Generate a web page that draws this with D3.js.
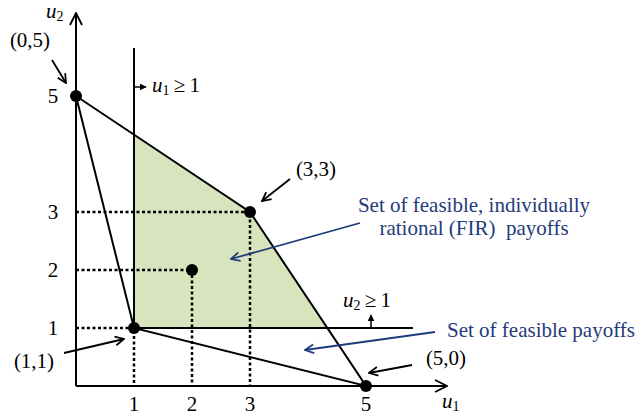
<!DOCTYPE html>
<html><head><meta charset="utf-8">
<script src="https://cdn.jsdelivr.net/npm/d3@7"></script>
<style>body{margin:0;background:#fff}svg{display:block}text{font-family:"Liberation Serif","Times New Roman",serif}</style>
</head><body><svg id="c" width="639" height="416"></svg>
<script>
const feasibleVertices = [[0,5],[3,3],[5,0],[1,1]];
const firVertices = [[1,1],[1,13/3],[3,3],[13/3,1]];
const markedPoints = [[0,5],[3,3],[5,0],[1,1],[2,2]];
const dottedGuides = [[3,3],[2,2],[1,1]];
const xTicks = [1,2,3,5];
const yTicks = [1,2,3,5];
const pointLabels = ["(0,5)","(3,3)","(5,0)","(1,1)"];
const blueLabels = ["Set of feasible, individually","rational (FIR)  payoffs","Set of feasible payoffs"];

const svg = d3.select("#c");
const x = d3.scaleLinear().domain([0,5]).range([76,366]);
const y = d3.scaleLinear().domain([0,5]).range([386,96]);
const blue = "#1f3b7a";
const FS = 21;

const defs = svg.append("defs");
function marker(id,color){
  defs.append("marker").attr("id",id).attr("viewBox","0 0 10 10").attr("refX",9).attr("refY",5)
   .attr("markerWidth",11).attr("markerHeight",11).attr("markerUnits","userSpaceOnUse").attr("orient","auto")
   .append("path").attr("d","M1,1 L9,5 L1,9").attr("fill","none").attr("stroke",color).attr("stroke-width",1.6);
}
marker("ak","#000"); marker("ab",blue);
defs.append("marker").attr("id","ax").attr("viewBox","0 0 14 14").attr("refX",13).attr("refY",7)
  .attr("markerWidth",14).attr("markerHeight",14).attr("markerUnits","userSpaceOnUse").attr("orient","auto")
  .append("path").attr("d","M1,1 L13,7 L1,13").attr("fill","none").attr("stroke","#000").attr("stroke-width",1.8);
defs.append("marker").attr("id","tri").attr("viewBox","0 0 10 10").attr("refX",9).attr("refY",5)
  .attr("markerWidth",7).attr("markerHeight",7).attr("markerUnits","userSpaceOnUse").attr("orient","auto")
  .append("path").attr("d","M0,0 L10,5 L0,10 Z").attr("fill","#000");

const line = d3.line().x(d=>x(d[0])).y(d=>y(d[1]));

// FIR fill
svg.append("path").attr("d",line(firVertices)+"Z").attr("fill","#d7e4bd");

// dotted guides
dottedGuides.forEach(p=>{
  svg.append("path").attr("d",line([[0,p[1]],p,[p[0],0]])).attr("fill","none")
    .attr("stroke","#000").attr("stroke-width",2.5).attr("stroke-dasharray","3,2.5");
});

// axes
svg.append("line").attr("x1",x(0)).attr("y1",y(0)).attr("x2",447).attr("y2",y(0))
  .attr("stroke","#000").attr("stroke-width",2).attr("marker-end","url(#ax)");
svg.append("line").attr("x1",x(0)).attr("y1",y(0)).attr("x2",x(0)).attr("y2",13)
  .attr("stroke","#000").attr("stroke-width",2).attr("marker-end","url(#ax)");

// constraint lines
svg.append("line").attr("x1",x(1)).attr("y1",48).attr("x2",x(1)).attr("y2",y(1)).attr("stroke","#000").attr("stroke-width",2);
svg.append("line").attr("x1",x(1)).attr("y1",y(1)).attr("x2",413).attr("y2",y(1)).attr("stroke","#000").attr("stroke-width",2);

// feasible polygon edges
svg.append("path").attr("d",line(feasibleVertices)+"Z").attr("fill","none").attr("stroke","#000").attr("stroke-width",2);

// points
svg.selectAll("circle.pt").data(markedPoints).join("circle").attr("class","pt")
  .attr("cx",d=>x(d[0])).attr("cy",d=>y(d[1])).attr("r",6).attr("fill","#000");

// ticks
svg.selectAll("text.xt").data(xTicks).join("text").attr("class","xt")
  .attr("x",d=>x(d)).attr("y",411).attr("text-anchor","middle").attr("font-size",FS).text(d=>d);
svg.selectAll("text.yt").data(yTicks).join("text").attr("class","yt")
  .attr("x",53).attr("y",d=>y(d)+7).attr("text-anchor","middle").attr("font-size",FS).text(d=>d);

// axis labels
function ulab(xx,yy,sub,extra){
  const t=svg.append("text").attr("x",xx).attr("y",yy).attr("font-size",FS).attr("font-style","italic");
  t.append("tspan").text("u");
  t.append("tspan").attr("font-size",14).attr("font-style","normal").attr("dy",3).text(sub);
  if(extra) t.append("tspan").attr("font-style","normal").attr("dy",-3).text(extra);
  return t;
}
ulab(46,18,"2");
ulab(442,408,"1");
ulab(152,92,"1","\u2009\u2265\u20091");
ulab(343,307,"2","\u2009\u2265\u20091");

// small constraint arrows
svg.append("line").attr("x1",x(1)).attr("y1",87).attr("x2",146).attr("y2",87).attr("stroke","#000").attr("stroke-width",1.5).attr("marker-end","url(#tri)");
svg.append("line").attr("x1",371).attr("y1",y(1)).attr("x2",371).attr("y2",315).attr("stroke","#000").attr("stroke-width",1.5).attr("marker-end","url(#tri)");

// point labels
const plPos = [[30,47],[316,176],[446,365],[34,368]];
svg.selectAll("text.pl").data(pointLabels).join("text").attr("class","pl")
  .attr("x",(d,i)=>plPos[i][0]).attr("y",(d,i)=>plPos[i][1]).attr("text-anchor","middle").attr("font-size",FS).text(d=>d);
const blackArrows = [[[52,60],[66,83]],[[290,179],[262,201]],[[412,365],[369,373]],[[64,353],[124,339]]];
blackArrows.forEach(a=>{
  svg.append("line").attr("x1",a[0][0]).attr("y1",a[0][1]).attr("x2",a[1][0]).attr("y2",a[1][1])
    .attr("stroke","#000").attr("stroke-width",1.8).attr("marker-end","url(#ak)");
});

// blue labels
const blPos = [[474,212],[474,235],[541,337]];
svg.selectAll("text.bl").data(blueLabels).join("text").attr("class","bl")
  .attr("x",(d,i)=>blPos[i][0]).attr("y",(d,i)=>blPos[i][1]).attr("text-anchor","middle")
  .attr("font-size",FS).attr("fill",blue).style("white-space","pre").text(d=>d);
const blueArrows = [[[360,223],[231,259]],[[435,332],[305,350]]];
blueArrows.forEach(a=>{
  svg.append("line").attr("x1",a[0][0]).attr("y1",a[0][1]).attr("x2",a[1][0]).attr("y2",a[1][1])
    .attr("stroke",blue).attr("stroke-width",1.8).attr("marker-end","url(#ab)");
});
</script></body></html>
